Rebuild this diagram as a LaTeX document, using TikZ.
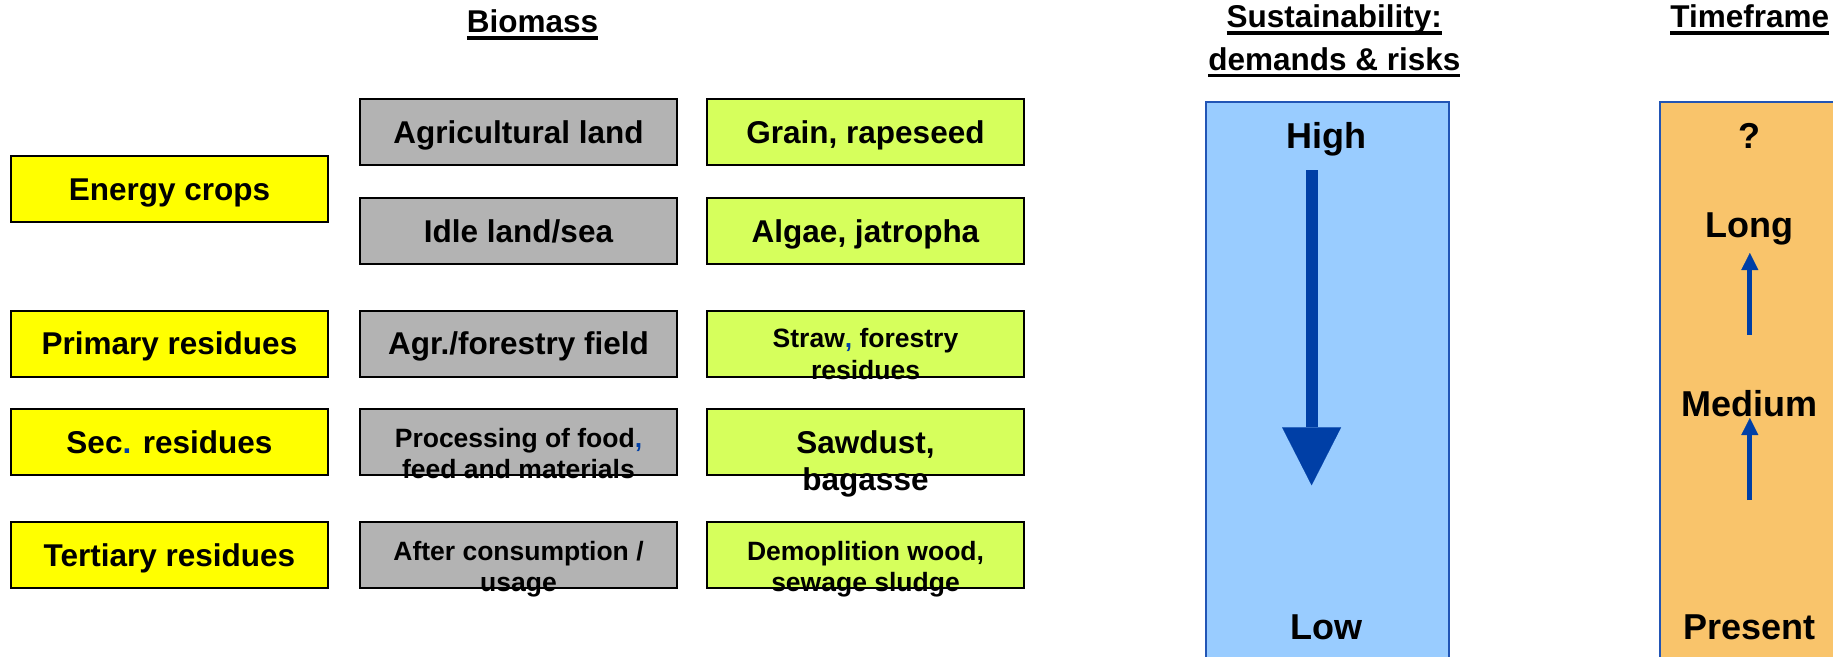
\documentclass[tikz,border=0pt]{standalone}
\usepackage{fontspec}
\setmainfont{Liberation Sans}
\usetikzlibrary{arrows.meta,positioning}

\definecolor{cropyellow}{HTML}{FFFF00}
\definecolor{landgrey}{HTML}{B3B3B3}
\definecolor{feedlime}{HTML}{D6FF5C}
\definecolor{scaleblue}{HTML}{99CCFF}
\definecolor{scaleedge}{HTML}{2255B5}
\definecolor{timeorange}{HTML}{F9C46B}
\definecolor{arrowblue}{HTML}{003FA6}

\newcommand\ulin[1]{\setbox0\hbox{#1}\rlap{\rule[-7.3pt]{\wd0}{3.6pt}}\box0}

\begin{document}
\begin{tikzpicture}[x=1pt,y=-1pt,
  box/.style={draw=black, line width=2pt, minimum width=317pt, minimum height=66pt,
    inner sep=0pt, font=\bfseries\fontsize{31.5}{37}\selectfont, text height=22.5pt, text depth=0pt},
  srcbox/.style={box, fill=cropyellow},
  landbox/.style={box, fill=landgrey},
  feedbox/.style={box, fill=feedlime},
  txt/.style={align=center, inner sep=0pt, anchor=base, font=\bfseries\fontsize{26.5}{31.5}\selectfont},
  bigtxt/.style={txt, font=\bfseries\fontsize{31.5}{37}\selectfont},
  title/.style={align=center, inner sep=0pt, anchor=base, font=\bfseries\fontsize{31.5}{42.5}\selectfont},
  bar/.style={line width=2pt, draw=scaleedge, minimum width=243pt, minimum height=570pt,
    inner sep=0pt, anchor=north west},
  scaletxt/.style={inner sep=0pt, font=\bfseries\fontsize{36}{43}\selectfont, text height=26pt, text depth=0pt},
  bigarrow/.style={line width=12pt, draw=arrowblue, -{Triangle[width=59pt,length=58pt,line width=0.1pt]}},
  smallarrow/.style={line width=5pt, draw=arrowblue, -{Triangle[width=17pt,length=17pt,line width=0.1pt]}}]
\useasboundingbox (0,0) rectangle (1833,656);
\clip (0,0) rectangle (1833,656);

% titles (base = last line)
\node[title] (biomass) at (532.5,32.3) {\ulin{Biomass}};
\node[title] (sust) at (1334.3,70) {\ulin{Sustainability:}\\\ulin{demands \& risks}};
\node[title] (timeframe) at (1749.7,27.5) {\ulin{Timeframe}};

% biomass types
\foreach \n/\y/\t in {energy/188.8/{Energy crops}, primary/343.7/{Primary residues},
    secondary/441.8/{Sec\textcolor{arrowblue}{.} residues}, tertiary/555.3/{Tertiary residues}}{
  \node[srcbox] (\n) at (169.5,\y) {\t};
}

% origin
\node[landbox] (agri) at (518.5,132.1) {Agricultural land};
\node[landbox] (idle) at (518.5,230.9) {Idle land/sea};
\node[landbox] (field) at (518.5,343.7) {Agr./forestry field};
\node[landbox] (process) at (518.5,441.8) {};
\node[txt] (processtxt) at ([yshift=-36.7pt]process.center) {Processing of food\textcolor{arrowblue}{,}\\feed and materials};
\node[landbox] (usage) at (518.5,555.3) {};
\node[txt] (usagetxt) at ([yshift=-36.2pt]usage.center) {After consumption /\\usage};

% feedstock
\node[feedbox] (grain) at (865.5,132.1) {Grain, rapeseed};
\node[feedbox] (algae) at (865.5,230.9) {Algae, jatropha};
\node[feedbox] (straw) at (865.5,343.7) {};
\node[txt] (strawtxt) at ([yshift=-35.3pt]straw.center) {Straw\textcolor{arrowblue}{,} forestry\\residues};
\node[feedbox] (sawdust) at (865.5,441.8) {};
\node[bigtxt] (sawdusttxt) at ([yshift=-48.3pt]sawdust.center) {Sawdust,\\bagasse};
\node[feedbox] (demolition) at (865.5,555.3) {};
\node[txt] (demolitiontxt) at ([yshift=-36.2pt]demolition.center) {Demoplition wood,\\sewage sludge};

% sustainability scale
\node[bar, fill=scaleblue] (sustbar) at (1205,100.5) {};
\node[scaletxt] (high) at (1326.5,135.5) {High};
\node[scaletxt] (low) at (1326.5,626.5) {Low};
\coordinate (risktop) at (1311.6,170);
\coordinate (riskend) at (1311.6,485.3);
\draw[bigarrow] (risktop) -- (riskend);

% timeframe scale
\node[bar, fill=timeorange] (timebar) at (1659,100.5) {};
\node[scaletxt] (unknown) at (1749.6,135.8) {?};
\node[scaletxt] (long) at (1749.6,224) {Long};
\node[scaletxt] (medium) at (1749.6,403.7) {Medium};
\node[scaletxt] (present) at (1749.6,626.5) {Present};
\coordinate (longfoot) at (1749.8,334.7);
\coordinate (longtip) at (1749.8,253);
\coordinate (mediumfoot) at (1749.8,500);
\coordinate (mediumtip) at (1749.8,418);
\draw[smallarrow] (longfoot) -- (longtip);
\draw[smallarrow] (mediumfoot) -- (mediumtip);
\end{tikzpicture}
\end{document}
